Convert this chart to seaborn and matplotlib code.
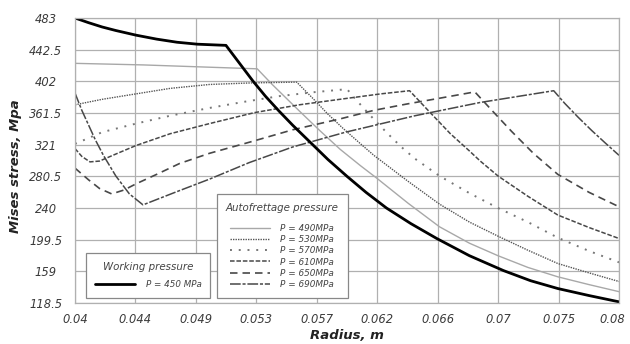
import numpy as np
import pandas as pd
import matplotlib
matplotlib.use('Agg')
import matplotlib.pyplot as plt
from matplotlib.lines import Line2D
from matplotlib.transforms import ScaledTranslation
import seaborn as sns

# values (radius in m, Mises stress in MPa)
r_450 = [0.0400, 0.0410, 0.0420, 0.0430, 0.0445, 0.0460, 0.0475, 0.0490, 0.0511, 0.0521,
         0.0531, 0.0540, 0.0550, 0.0560, 0.0573, 0.0586, 0.0600, 0.0614, 0.0629, 0.0647,
         0.0666, 0.0690, 0.0715, 0.0735, 0.0755, 0.0778, 0.0800]
s_450 = [483, 477, 471.5, 467, 461, 456, 452, 449.5, 448, 425,
         402, 383, 364, 346, 324, 302, 280.5, 260, 240, 220,
         201, 179, 160, 147, 137, 128, 120]

r_490 = [0.0400, 0.0450, 0.0500, 0.0534, 0.0545, 0.0555, 0.0565, 0.0580, 0.0595, 0.0610,
         0.0622, 0.0645, 0.0668, 0.0690, 0.0711, 0.0733, 0.0755, 0.0778, 0.0800]
s_490 = [425, 423, 420, 418, 398, 381, 364, 339, 315, 294,
         278, 246, 216, 195, 179, 164, 152, 142, 133]

r_530 = [0.0400, 0.0420, 0.0445, 0.0470, 0.0499, 0.0530, 0.0563, 0.0575, 0.0586, 0.0597,
         0.0610, 0.0620, 0.0645, 0.0668, 0.0690, 0.0711, 0.0733, 0.0755, 0.0778, 0.0800]
s_530 = [372, 379, 386, 393, 398, 400, 401, 380, 360, 342,
         322, 307, 274, 245, 222, 204, 186, 169, 157, 146]

r_570 = [0.0400, 0.0420, 0.0445, 0.0470, 0.0499, 0.0525, 0.0550, 0.0575, 0.0600, 0.0610,
         0.0620, 0.0630, 0.0640, 0.0650, 0.0668, 0.0690, 0.0711, 0.0733, 0.0755, 0.0778,
         0.0800]
s_570 = [322, 337, 348, 358, 368, 376, 383, 388, 392, 372,
         353, 335, 318, 303, 281, 259, 240, 222, 202, 185,
         170.5]

r_610 = [0.0400, 0.0405, 0.0411, 0.0418, 0.0430, 0.0445, 0.0470, 0.0499, 0.0532, 0.0565,
         0.0599, 0.0625, 0.0646, 0.0659, 0.0676, 0.0690, 0.0698, 0.0711, 0.0733, 0.0755,
         0.0778, 0.0800]
s_610 = [316, 306, 299, 300, 309, 320, 335, 348, 362, 372,
         380, 386, 390, 366, 335, 313, 300, 281, 255, 231,
         215, 201]

r_650 = [0.0400, 0.0410, 0.0418, 0.0427, 0.0436, 0.0445, 0.0460, 0.0477, 0.0499, 0.0530,
         0.0560, 0.0595, 0.0620, 0.0644, 0.0670, 0.0694, 0.0707, 0.0721, 0.0737, 0.0755,
         0.0778, 0.0800]
s_650 = [291, 276, 265, 258, 263, 271, 283, 297, 310, 325,
         340, 354, 365, 373, 381, 388.5, 364, 338, 310, 283,
         260, 241.6]

r_690 = [0.0400, 0.0405, 0.0410, 0.0415, 0.0421, 0.0430, 0.0440, 0.0450, 0.0475, 0.0499,
         0.0528, 0.0560, 0.0599, 0.0650, 0.0698, 0.0752, 0.0760, 0.0770, 0.0780, 0.0790,
         0.0800]
s_690 = [387, 365, 346, 327, 307, 281, 258, 244, 261, 277,
         298, 318, 337, 358, 375, 390, 374, 356, 339, 323,
         307.4]

x_tick_labels = ['0.04', '0.044', '0.049', '0.053', '0.057', '0.062', '0.066', '0.07', '0.075', '0.08']
y_ticks = [118.5, 159, 199.5, 240, 280.5, 321, 361.5, 402, 442.5, 483]
auto_labels = ['P = 490MPa', 'P = 530MPa', 'P = 570MPa', 'P = 610MPa', 'P = 650MPa', 'P = 690MPa']

sns.set_style('white')
plt.rcParams['font.family'] = ['DejaVu Sans']

fig = plt.figure(figsize=(6.3, 3.44), dpi=100)
ax = fig.add_axes([75 / 630, 41 / 344, 544 / 630, 285 / 344])

styles = [
    dict(color='#a8a8a8', lw=1.0, ls='-'),
    dict(color='#555555', lw=1.0, ls=(0, (1, 0.8))),
    dict(color='#777777', lw=1.4, ls=(0, (1, 3.5))),
    dict(color='#484848', lw=1.1, ls=(0, (3, 1.2))),
    dict(color='#484848', lw=1.2, ls=(0, (4.5, 3))),
    dict(color='#484848', lw=1.1, ls=(0, (7, 1.2, 2, 1.2))),
]
series = [(r_490, s_490), (r_530, s_530), (r_570, s_570),
          (r_610, s_610), (r_650, s_650), (r_690, s_690)]

for (r, s), st in zip(series, styles):
    df = pd.DataFrame({'r': r, 's': s})
    sns.lineplot(data=df, x='r', y='s', ax=ax, sort=False, color=st['color'],
                 linewidth=st['lw'], linestyle=st['ls'])

df450 = pd.DataFrame({'r': r_450, 's': s_450})
sns.lineplot(data=df450, x='r', y='s', ax=ax, sort=False, color='black', linewidth=2.0)

ax.set_xlim(0.04, 0.08)
ax.set_ylim(118.5, 483)
ax.set_xticks(np.linspace(0.04, 0.08, len(x_tick_labels)))
ax.set_xticklabels(x_tick_labels)
ax.set_yticks(y_ticks)
ax.set_yticklabels([f'{v:g}' for v in y_ticks], ha='center')
ax.tick_params(axis='both', length=0, labelsize=8.3, labelcolor='#3a3a3a')
ax.tick_params(axis='y', pad=21)
ax.tick_params(axis='x', pad=7)
for lab in ax.get_xticklabels() + ax.get_yticklabels():
    lab.set_fontstyle('italic')
# nudge the last x label inwards so it stays inside the figure
last = ax.get_xticklabels()[-1]
last.set_transform(last.get_transform() + ScaledTranslation(-5 / 72, 0, fig.dpi_scale_trans))

ax.grid(True, color='#b0b0b0', lw=0.9)
for sp in ax.spines.values():
    sp.set_color('#b0b0b0')
    sp.set_linewidth(0.9)

ax.set_xlabel('Radius, m', fontsize=9.5, fontweight='bold', fontstyle='italic', color='#222222')
ax.set_ylabel('Mises stress, Mpa', fontsize=9.5, fontweight='bold', fontstyle='italic', color='#222222')
ax.xaxis.set_label_coords(0.5, -0.09)
ax.yaxis.set_label_coords(-0.097, 0.48)

# legends
work_handle = [Line2D([], [], color='black', lw=2.0)]
leg1 = ax.legend(work_handle, ['P = 450 MPa'], loc='lower left', bbox_to_anchor=(0.02, 0.018),
                 borderaxespad=0, fancybox=False, edgecolor='#888888', framealpha=1,
                 prop={'size': 6.3, 'style': 'italic'}, handlelength=4.6,
                 title='Working pressure', title_fontproperties={'size': 7.4, 'style': 'italic'},
                 borderpad=1.0, handletextpad=1.25)
leg1._legend_box.sep = 6
leg1.get_frame().set_linewidth(0.9)
for t in leg1.get_texts():
    t.set_color('#444444')
leg1.get_title().set_color('#444444')
ax.add_artist(leg1)

auto_handles = [Line2D([], [], color=st['color'], lw=st['lw'], ls=st['ls']) for st in styles]
leg2 = ax.legend(auto_handles, auto_labels, loc='lower left', bbox_to_anchor=(0.261, 0.018),
                 borderaxespad=0, fancybox=False, edgecolor='#888888', framealpha=1,
                 prop={'size': 6.4, 'style': 'italic'}, handlelength=4.4, labelspacing=0.25,
                 title='Autofrettage pressure', title_fontproperties={'size': 7.4, 'style': 'italic'},
                 borderpad=1.0, handletextpad=1.2)
leg2._legend_box.sep = 8
leg2.get_frame().set_linewidth(0.9)
for t in leg2.get_texts():
    t.set_color('#444444')
leg2.get_title().set_color('#444444')

fig.savefig('out.png', dpi=100, facecolor='white')
